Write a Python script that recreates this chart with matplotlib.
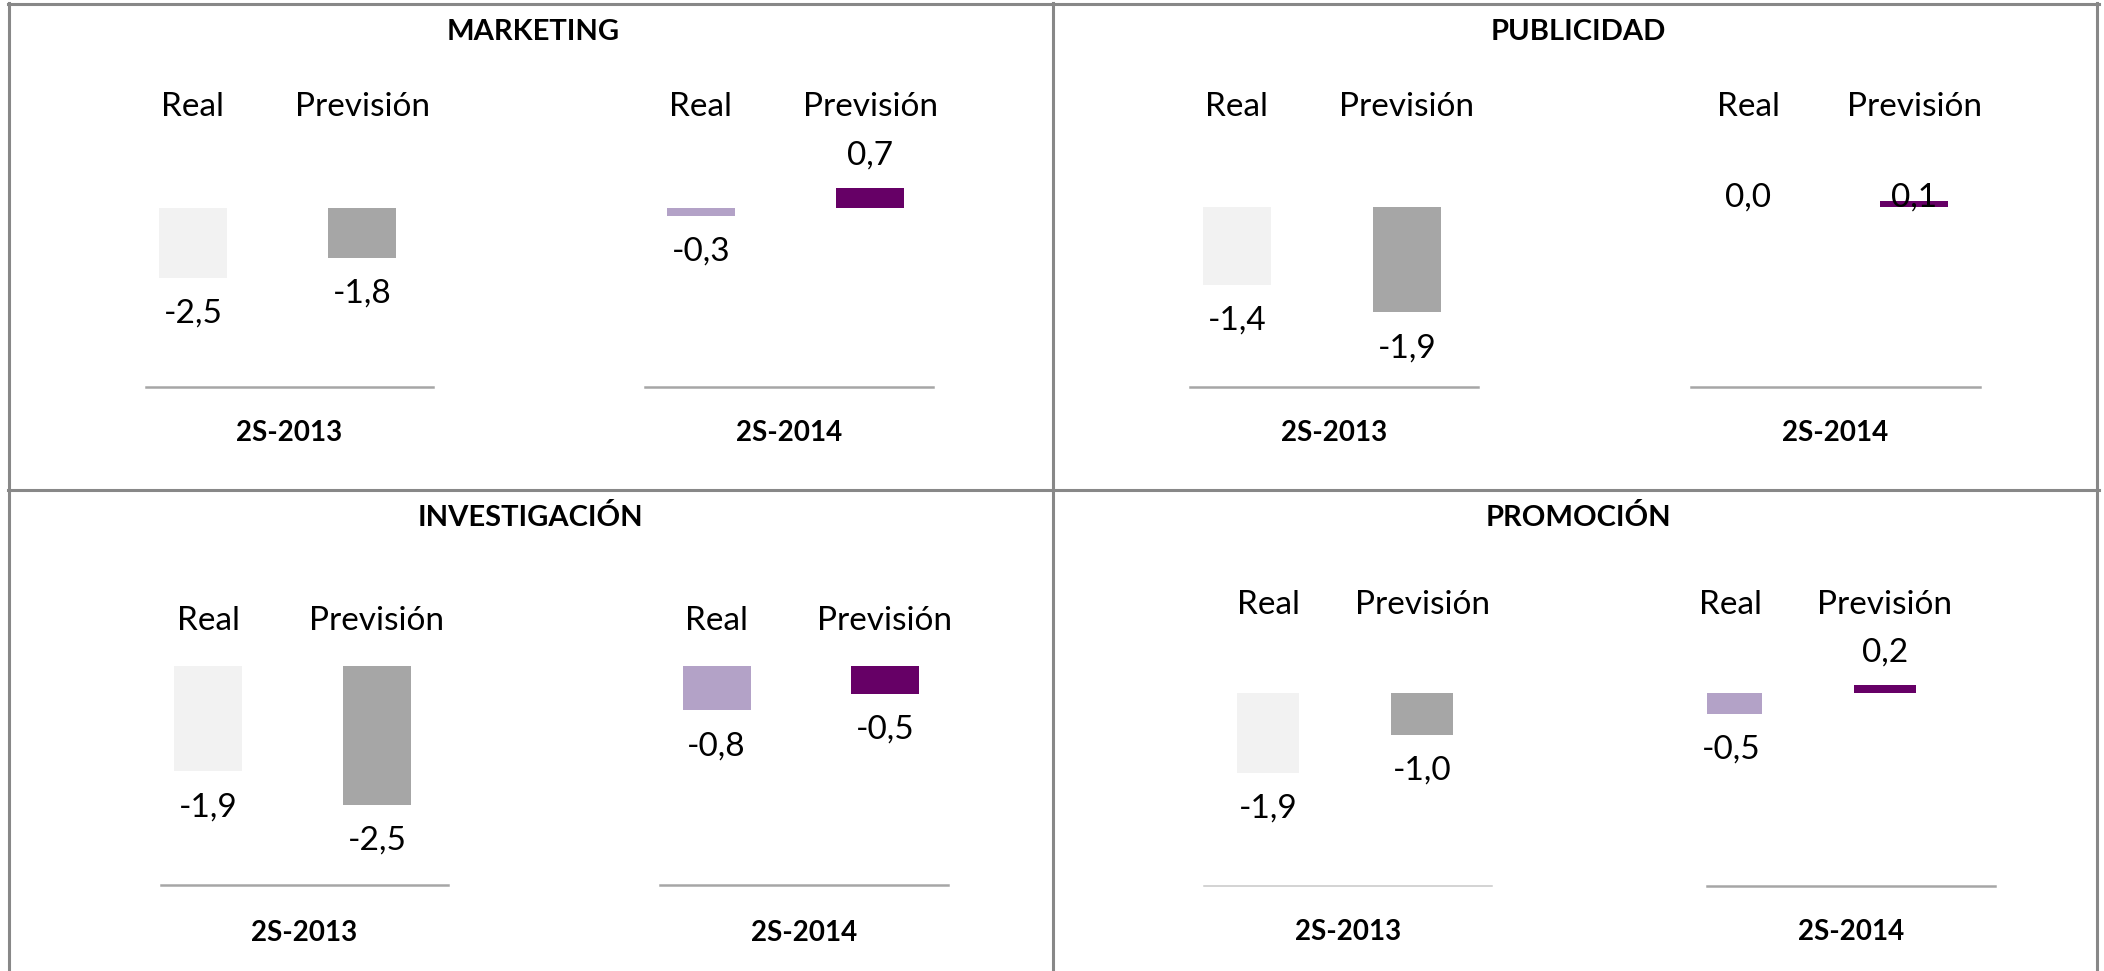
import matplotlib.pyplot as plt
from matplotlib.lines import Line2D
from matplotlib.transforms import blended_transform_factory

# data
panels = ["MARKETING", "PUBLICIDAD", "INVESTIGACIÓN", "PROMOCIÓN"]
periods = ["2S-2013", "2S-2014"]
series = ["Real", "Previsión"]
real_2013 = [-2.5, -1.4, -1.9, -1.9]
prev_2013 = [-1.8, -1.9, -2.5, -1.0]
real_2014 = [-0.3, 0.0, -0.8, -0.5]
prev_2014 = [0.7, 0.1, -0.5, 0.2]

colors_2013 = ["#F2F2F2", "#A6A6A6"]
colors_2014 = ["#B3A2C7", "#660066"]

W, H = 2104, 971
plt.rcParams['font.family'] = ['Lato', 'DejaVu Sans']

fig = plt.figure(figsize=(W / 100, H / 100), dpi=100)


def fx(px):
    return px / W


def fy(py):
    return 1 - py / H


# pixel layout of each panel: title pos, row of series names, period labels,
# zero line, scale (px per unit), top of plot area, baseline, bar width
panel_layout = [
    dict(title=(533, 32), names_y=107, period_y=433, zero=207.5, scale=28.0,
         top=140, base=387, bar_w=68, subs=[(146, 433, 193, 362), (645, 933, 701, 870)]),
    dict(title=(1578, 32), names_y=107, period_y=433, zero=207, scale=55.5,
         top=198, base=387, bar_w=68, subs=[(1190, 1478, 1237, 1407), (1691, 1980, 1748, 1914)]),
    dict(title=(530, 518), names_y=621, period_y=933, zero=666, scale=55.5,
         top=640, base=885, bar_w=68, subs=[(161, 448, 208, 377), (660, 948, 716.5, 885)]),
    dict(title=(1578, 518), names_y=605, period_y=932, zero=693, scale=42.0,
         top=630, base=886, bar_w=62, subs=[(1204, 1492, 1268, 1422), (1707, 1995, 1731, 1885)]),
]
base_colors = [["#A6A6A6", "#A6A6A6"], ["#A6A6A6", "#A6A6A6"],
               ["#A6A6A6", "#A6A6A6"], ["#C8C8C8", "#A6A6A6"]]


def fmt(v):
    return f"{v:.1f}".replace(".", ",")


for p, name in enumerate(panels):
    lay = panel_layout[p]
    fig.text(fx(lay["title"][0]), fy(lay["title"][1]), name, ha="center", va="center",
             fontsize=21, fontweight="bold")
    groups = [([real_2013[p], prev_2013[p]], colors_2013),
              ([real_2014[p], prev_2014[p]], colors_2014)]
    for g, (vals, cols) in enumerate(groups):
        left, right, c0, c1 = lay["subs"][g]
        top, base, zero, scale = lay["top"], lay["base"], lay["zero"], lay["scale"]
        ax = fig.add_axes([fx(left), fy(base), (right - left) / W, (base - top) / H])
        d = c1 - c0
        ax.set_xlim((left - c0) / d, (right - c0) / d)
        ymax = (zero - top) / scale
        ax.set_ylim(-(base - zero) / scale, ymax)
        ax.bar([0, 1], vals, width=lay["bar_w"] / d, color=cols)
        for s in ["top", "left", "right"]:
            ax.spines[s].set_visible(False)
        lw = 1.1 if base_colors[p][g] == "#C8C8C8" else 1.8
        ax.spines["bottom"].set_color(base_colors[p][g])
        ax.spines["bottom"].set_linewidth(lw)
        ax.set_xticks([])
        ax.set_yticks([])
        ax.patch.set_visible(False)

        tr = blended_transform_factory(ax.transData, fig.transFigure)
        for i, v in enumerate(vals):
            ax.text(i, fy(lay["names_y"]), series[i], transform=tr,
                    ha="center", va="center", fontsize=24)
            if v < 0:
                y = v - 36 / scale
            else:
                y = min(v + 32 / scale, ymax)
            ax.text(i, y, fmt(v), ha="center", va="center", fontsize=24, clip_on=False)

        fig.text(fx((left + right) / 2), fy(lay["period_y"]), periods[g],
                 ha="center", va="center", fontsize=20, fontweight="bold")

# grid frame around the four panels
frame = "#888888"
for xs, ys in [((8, 2099), (4, 4)), ((9, 9), (3, 971)), ((2097, 2097), (3, 971)),
               ((1053, 1053), (3, 971)), ((8, 2099), (490, 490))]:
    fig.add_artist(Line2D([fx(xs[0]), fx(xs[1])], [fy(ys[0]), fy(ys[1])],
                          color=frame, lw=2.2, transform=fig.transFigure))

fig.savefig("out.png", dpi=100)
